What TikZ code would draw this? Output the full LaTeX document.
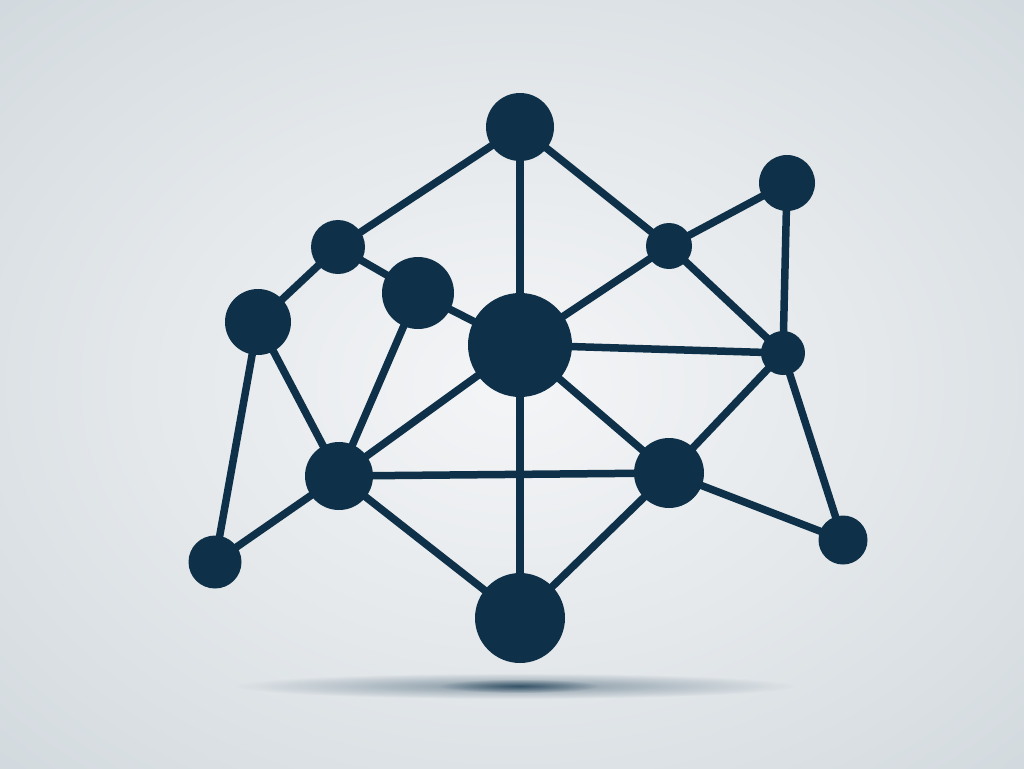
\documentclass[tikz,border=0pt]{standalone}
\usetikzlibrary{fadings}
\definecolor{navy}{RGB}{14,49,73}
\definecolor{bgin}{RGB}{244,245,247}
\definecolor{bgmid}{RGB}{228,232,235}
\definecolor{bgout}{RGB}{206,214,219}
\pgfdeclareradialshading{bgshade}{\pgfpoint{0bp}{0bp}}{color(0bp)=(bgin); color(18bp)=(bgmid); color(40bp)=(bgout); color(50bp)=(bgout)}
\tikzfading[name=shadowfade, inner color=transparent!55, outer color=transparent!100]
\tikzfading[name=corefade, inner color=transparent!35, outer color=transparent!100]
\pgfdeclarelayer{bglayer}
\pgfdeclarelayer{edgelayer}
\pgfsetlayers{bglayer,edgelayer,main}
\tikzset{
  dot/.style={circle, fill=navy, draw=none, inner sep=0pt, minimum size=#1},
  link/.style={draw=navy, line width=7.5pt}
}
\begin{document}
\begin{tikzpicture}[x=1pt,y=-1pt]
\useasboundingbox (0,0) rectangle (1024,768);
\begin{pgfonlayer}{bglayer}
\shade[shading=bgshade] (0,0) rectangle (1024,768);
\fill[navy, path fading=shadowfade] (515,686) ellipse (280 and 13);
\fill[navy, path fading=corefade] (519,686) ellipse (80 and 7);
\end{pgfonlayer}
\node[dot=68pt] (A) at (520,127) {};
\node[dot=56pt] (B) at (787,183) {};
\node[dot=54pt] (C) at (338,247) {};
\node[dot=46pt] (D) at (669,246) {};
\node[dot=72pt] (E) at (418,293) {};
\node[dot=66pt] (F) at (258,322) {};
\node[dot=104pt] (G) at (520,345) {};
\node[dot=44pt] (H) at (783,353) {};
\node[dot=68pt] (I) at (339,476) {};
\node[dot=70pt] (J) at (669,473) {};
\node[dot=49pt] (K) at (843,540) {};
\node[dot=53pt] (L) at (215,562) {};
\node[dot=90pt] (M) at (520,618) {};
\begin{pgfonlayer}{edgelayer}
\foreach \a/\b in {A/C,A/G,A/D,D/B,B/H,D/H,D/G,G/H,C/F,C/E,E/G,E/I,F/I,F/L,L/I,I/G,I/J,I/M,G/M,G/J,J/M,J/H,J/K,H/K}
  \draw[link] (\a.center) -- (\b.center);
\end{pgfonlayer}
\end{tikzpicture}
\end{document}
